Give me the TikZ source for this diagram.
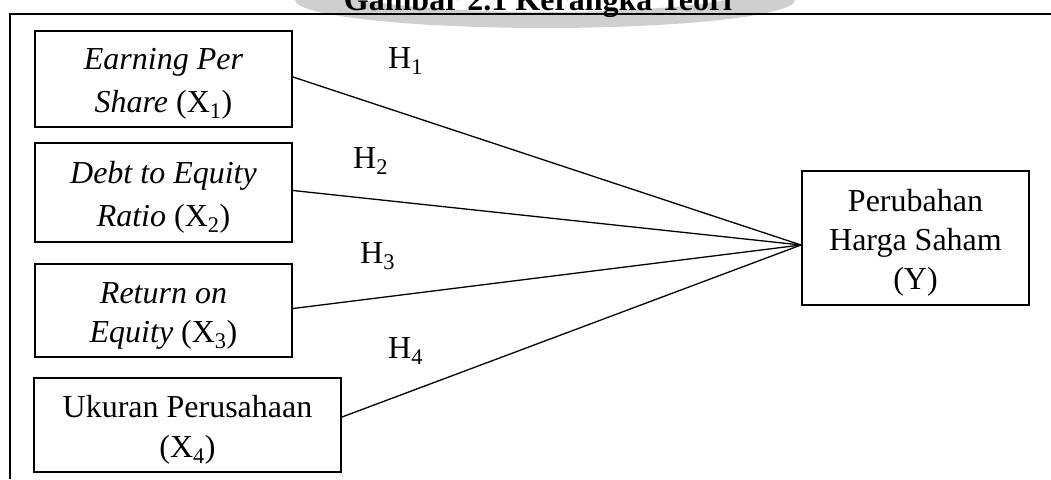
\documentclass[tikz,border=0pt]{standalone}
\usepackage{fontspec}
\setmainfont{Liberation Serif}
\usetikzlibrary{calc}
\definecolor{markgray}{gray}{0.81}
\begin{document}
\begin{tikzpicture}[x=1pt,y=-1pt,
  box/.style={draw, line width=2pt, inner sep=0pt},
  boxtext/.style={align=center, inner sep=0pt, yshift=-5pt,
    font=\fontsize{32}{#1}\selectfont},
  boxtext/.default=42,
  link/.style={line width=1.3pt},
  hyp/.style={anchor=base west, inner sep=0pt, font=\fontsize{32}{38}\selectfont}]
\useasboundingbox (0,0) rectangle (1051,479);
\clip (0,0) rectangle (1051,479);

% faint crescent behind the heading
\fill[markgray, even odd rule]
  (545,0) ellipse [x radius=250, y radius=28]
  (545,-14) ellipse [x radius=215, y radius=26];

% heading and page frame
\node[anchor=base, inner sep=0pt, font=\bfseries\fontsize{32}{38}\selectfont]
  (title) at (538,10) {Gambar 2.1 Kerangka Teori};
\draw[line width=2.5pt] (10,479) -- (10,14) -- (1051,14);

% independent variables
\node[box, minimum width=257pt, minimum height=96pt,
  label={[boxtext=43]center:\textit{Earning Per}\\\textit{Share} (X\textsubscript{1})}]
  (x1) at (163.5,79) {};
\node[box, minimum width=257pt, minimum height=99pt,
  label={[boxtext=43]center:\textit{Debt to Equity}\\\textit{Ratio} (X\textsubscript{2})}]
  (x2) at (163.5,192.5) {};
\node[box, minimum width=257pt, minimum height=93pt,
  label={[boxtext=39]center:\textit{Return on}\\\textit{Equity} (X\textsubscript{3})}]
  (x3) at (163.5,310.5) {};
\node[box, minimum width=307pt, minimum height=94pt,
  label={[boxtext=40]center:Ukuran Perusahaan\\(X\textsubscript{4})}]
  (x4) at (187.5,425) {};

% dependent variable
\node[box, minimum width=227pt, minimum height=134pt,
  label={[boxtext=39]center:Perubahan\\Harga Saham\\(Y)}]
  (y) at (915.5,238) {};

% hypothesis paths
\coordinate (hub) at ($(y.west)+(0,7)$);
\draw[link] ($(x1.east)+(0,-2)$) -- (hub);
\draw[link] ($(x2.east)+(0,-2)$) -- (hub);
\draw[link] ($(x3.east)+(0,-2)$) -- (hub);
\draw[link] ($(x4.east)+(0,-8)$) -- (hub);

\node[hyp] (h1) at (388,68) {H\textsubscript{1}};
\node[hyp] (h2) at (353,168) {H\textsubscript{2}};
\node[hyp] (h3) at (360,263) {H\textsubscript{3}};
\node[hyp] (h4) at (388,358) {H\textsubscript{4}};
\end{tikzpicture}
\end{document}
